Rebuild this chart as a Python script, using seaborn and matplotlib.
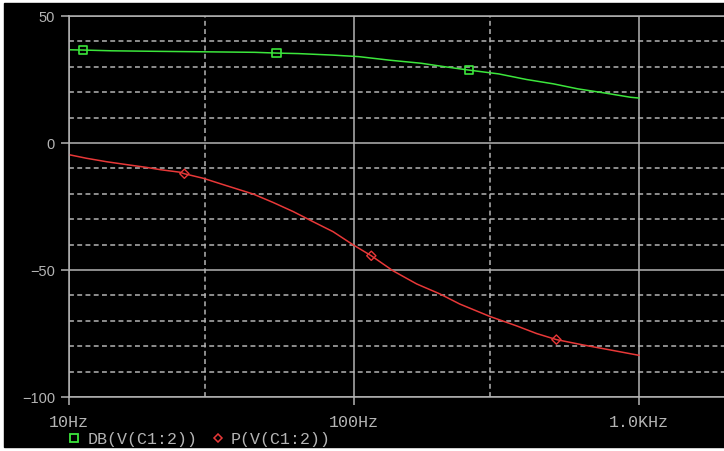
import numpy as np
import pandas as pd
import matplotlib
matplotlib.use('Agg')
import matplotlib.pyplot as plt
from matplotlib.lines import Line2D
from matplotlib.patches import Rectangle
from matplotlib.ticker import FixedLocator, NullFormatter
import seaborn as sns

# Bode plot data
freq_db = [10, 11.2, 14.1, 20, 30, 44.9, 53.5, 63.8, 84.4, 104, 133.5, 172, 203, 253, 322, 403, 500, 611, 757, 935, 1000]
gain_db = [36.7, 36.6, 36.3, 36.1, 35.9, 35.7, 35.4, 35.2, 34.6, 34.0, 32.6, 31.4, 30.2, 28.7, 27.2, 25.0, 23.3, 21.3, 19.7, 18.0, 17.7]

freq_p = [10, 11.5, 13.6, 15.9, 18.7, 20.9, 24.5, 25.4, 29.6, 35.7, 44.3, 52, 61.2, 71.9, 84.4, 99,
          115, 137, 166, 200, 235, 300, 372, 437, 513, 636, 786, 1000]
phase_p = [-4.6, -6.0, -7.4, -8.5, -9.6, -10.5, -11.5, -12.1, -13.9, -16.8, -20.1, -23.4, -27.0, -31.0, -34.9, -40.0,
           -44.4, -50.3, -55.5, -59.4, -63.4, -68.3, -72.0, -75.0, -77.4, -79.5, -81.4, -83.6]

# symbol markers drawn by the probe
db_marker_freq = [11.2, 53.5, 253]
db_marker_val = [36.6, 35.4, 28.7]
p_marker_freq = [25.4, 115, 513]
p_marker_val = [-12.1, -44.4, -77.4]

x_ticks = [10, 100, 1000]
x_labels = ['10Hz', '100Hz', '1.0KHz']
y_ticks = [-100, -50, 0, 50]

GREEN = '#3ce63c'
RED = '#e83838'
GRAY = '#b4b4b4'

df_db = pd.DataFrame({'freq': freq_db, 'val': gain_db})
df_p = pd.DataFrame({'freq': freq_p, 'val': phase_p})

fig = plt.figure(figsize=(7.24, 4.52), dpi=100)
fig.patch.set_facecolor('white')
fig.add_artist(Rectangle((4 / 724, 4 / 452), 1, 444 / 452,
                         transform=fig.transFigure, color='black', zorder=-10))

ax = fig.add_axes([69 / 724, 54 / 452, 655 / 724, 381 / 452])
ax.set_facecolor('black')
ax.set_xscale('log')

sns.lineplot(data=df_db, x='freq', y='val', color=GREEN, linewidth=1.1, ax=ax)
sns.lineplot(data=df_p, x='freq', y='val', color=RED, linewidth=1.1, ax=ax)
sns.scatterplot(x=db_marker_freq, y=db_marker_val, marker='s', s=40,
                facecolor='none', edgecolor=GREEN, linewidth=1.2, ax=ax)
sns.scatterplot(x=p_marker_freq, y=p_marker_val, marker='D', s=22,
                facecolor='none', edgecolor=RED, linewidth=1.0, ax=ax)

ax.set_xlim(10, 1987)
ax.set_ylim(-100, 50)

ax.xaxis.set_major_locator(FixedLocator(x_ticks))
ax.set_xticklabels(x_labels)
ax.xaxis.set_minor_locator(FixedLocator([30, 300]))
ax.xaxis.set_minor_formatter(NullFormatter())
ax.yaxis.set_major_locator(FixedLocator(y_ticks))
ax.yaxis.set_minor_locator(FixedLocator([v for v in range(-90, 50, 10) if v % 50 != 0]))

ax.grid(which='major', color=GRAY, linewidth=1.1, linestyle='-')
ax.grid(which='minor', color=GRAY, linewidth=1.1, linestyle=(0, (3.2, 2.2)))
ax.set_axisbelow(True)

for side in ['left', 'top', 'bottom']:
    ax.spines[side].set_color(GRAY)
    ax.spines[side].set_linewidth(1.1)
ax.spines['right'].set_visible(False)

ax.tick_params(which='major', direction='out', length=6, width=1.1, color=GRAY, pad=4)
ax.tick_params(which='minor', length=0)
ax.tick_params(axis='y', labelcolor=GRAY, labelsize=10.5)
ax.tick_params(axis='x', labelcolor=GRAY, labelsize=12, pad=6)
for lbl in ax.get_yticklabels():
    lbl.set_family('Liberation Sans')
for lbl in ax.get_xticklabels():
    lbl.set_family('Liberation Mono')

ax.set_xlabel('')
ax.set_ylabel('')

handles = [
    Line2D([], [], linestyle='none', marker='s', markersize=6, markerfacecolor='none',
           markeredgecolor=GREEN, markeredgewidth=1.3),
    Line2D([], [], linestyle='none', marker='D', markersize=4.5, markerfacecolor='none',
           markeredgecolor=RED, markeredgewidth=1.1),
]
leg = fig.legend(handles, ['DB(V(C1:2))', 'P(V(C1:2))'], loc='center left',
                 bbox_to_anchor=(66 / 724, 12 / 452), ncol=2, frameon=False,
                 prop={'family': 'Liberation Mono', 'size': 12},
                 handletextpad=0.3, columnspacing=0.7, handlelength=1.0,
                 borderaxespad=0, borderpad=0)
for t in leg.get_texts():
    t.set_color(GRAY)

fig.savefig('out.png', dpi=100, facecolor=fig.get_facecolor())
